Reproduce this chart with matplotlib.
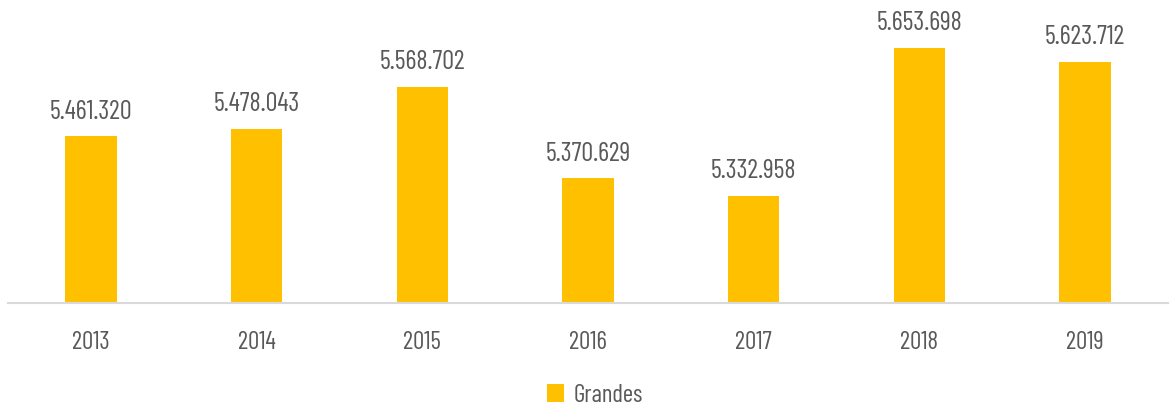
import matplotlib.pyplot as plt
from matplotlib import font_manager

years = ["2013", "2014", "2015", "2016", "2017", "2018", "2019"]
grandes = [5461320, 5478043, 5568702, 5370629, 5332958, 5653698, 5623712]
labels = ["5.461.320", "5.478.043", "5.568.702", "5.370.629", "5.332.958", "5.653.698", "5.623.712"]

names = {f.name for f in font_manager.fontManager.ttflist}
wanted = ["Barlow Condensed", "Barlow Semi Condensed", "IBM Plex Sans Condensed", "Open Sans Condensed"]
fam = next((n for n in wanted if n in names), "DejaVu Sans")
plt.rcParams['font.family'] = [fam, "DejaVu Sans"]

W, H = 1170, 408
fig = plt.figure(figsize=(W / 100, H / 100), dpi=100)
ax = fig.add_axes([8 / W, (H - 303) / H, 1160 / W, 303 / H])

gray = "#595959"
x = range(len(years))
ax.bar(x, grandes, width=0.31, color="#FFC000", label="Grandes", zorder=2)
ax.set_ylim(5100000, 5100000 + 303 * 2169)
ax.set_xlim(-0.5, len(years) - 0.5)

for i, (v, t) in enumerate(zip(grandes, labels)):
    ax.annotate(t, (i, v), xytext=(0, 9), textcoords="offset points",
                ha="center", va="bottom", fontsize=19, color=gray)

ax.set_xticks(list(x))
ax.set_xticklabels(years, fontsize=18, color=gray)
ax.tick_params(axis="x", length=0, pad=20)
ax.set_yticks([])
for s in ["top", "right", "left"]:
    ax.spines[s].set_visible(False)
ax.spines["bottom"].set_color("#D9D9D9")
ax.spines["bottom"].set_linewidth(1.5)

fig.legend(loc="center", bbox_to_anchor=(595 / W, 1 - 395 / H), frameon=False,
           fontsize=18, labelcolor=gray, handlelength=0.7, handleheight=0.7,
           handletextpad=0.4)

fig.savefig("out.png", dpi=100)
